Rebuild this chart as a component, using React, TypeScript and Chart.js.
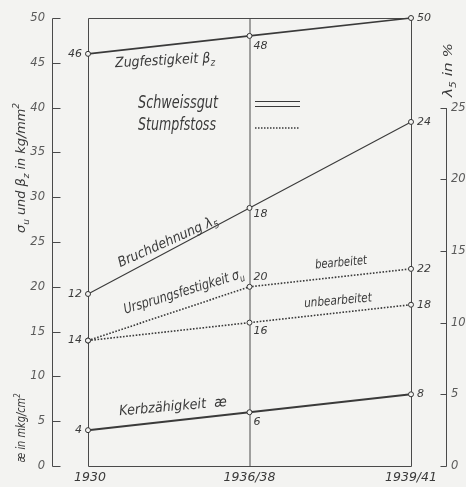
import React, { useEffect, useRef } from "react";
import { Chart, registerables } from "chart.js";

Chart.register(...registerables);

const categories = ["1930", "1936/38", "1939/41"];
const zugfestigkeit = [46, 48, 50];
const bruchdehnung = [12, 18, 24];
const ursprungBearbeitet = [14, 20, 22];
const ursprungUnbearbeitet = [14, 16, 18];
const kerbzaehigkeit = [4, 6, 8];
const leftTicks = [0, 5, 10, 15, 20, 25, 30, 35, 40, 45, 50];
const rightTicks = [0, 5, 10, 15, 20, 25];

const FONT = '"DejaVu Sans", "Liberation Sans", sans-serif';
const INK = "#3a3a3a";
const GREY = "#5a5a5a";
const BG = "#f3f3f1";

type Part = { t: string; sub?: boolean; sup?: boolean };

function drawRich(
  ctx: CanvasRenderingContext2D,
  parts: Part[],
  x: number,
  y: number,
  size: number,
  opts: { angle?: number; width?: number; align?: "center" | "left" | "right"; color?: string } = {}
) {
  const angle = opts.angle ?? 0;
  const align = opts.align ?? "center";
  ctx.save();
  ctx.translate(x, y);
  ctx.rotate((angle * Math.PI) / 180);
  const widths: number[] = [];
  let total = 0;
  for (const p of parts) {
    ctx.font = `italic ${p.sub || p.sup ? size * 0.7 : size}px ${FONT}`;
    const w = ctx.measureText(p.t).width;
    widths.push(w);
    total += w;
  }
  const sx = opts.width ? opts.width / total : 1;
  ctx.scale(sx, 1);
  let cx = align === "center" ? -total / 2 : align === "right" ? -total : 0;
  ctx.textBaseline = "middle";
  ctx.textAlign = "left";
  ctx.fillStyle = opts.color ?? INK;
  parts.forEach((p, i) => {
    ctx.font = `italic ${p.sub || p.sup ? size * 0.7 : size}px ${FONT}`;
    const dy = p.sub ? size * 0.32 : p.sup ? -size * 0.38 : 0;
    ctx.fillText(p.t, cx, dy);
    cx += widths[i];
  });
  ctx.restore();
}

// label placement per dataset for the middle point: vertical offset
const midOffsets = [10, 6, -10, 9, 10];
const showFirst = [true, true, true, false, true];

const decorPlugin = {
  id: "decor",
  beforeDatasetsDraw(chart: any) {
    const ctx: CanvasRenderingContext2D = chart.ctx;
    const x = chart.scales.x;
    const y = chart.scales.y;
    const y2 = chart.scales.y2;
    const x0 = x.getPixelForValue(0);
    const x1 = x.getPixelForValue(1);
    const x2 = x.getPixelForValue(2);
    const yTop = y.getPixelForValue(50);
    const yBot = y.getPixelForValue(0);
    ctx.save();
    ctx.strokeStyle = "#4a4a4a";
    ctx.lineWidth = 1;
    // frame
    ctx.beginPath();
    ctx.moveTo(x0 + 0.5, yBot + 0.5);
    ctx.lineTo(x0 + 0.5, yTop + 0.5);
    ctx.lineTo(x2 + 0.5, yTop + 0.5);
    ctx.lineTo(x2 + 0.5, yBot + 0.5);
    ctx.lineTo(x0 + 0.5, yBot + 0.5);
    ctx.moveTo(x1 + 0.5, yTop + 0.5);
    ctx.lineTo(x1 + 0.5, yBot + 0.5);
    ctx.stroke();
    // left axis
    const la = 52.5;
    ctx.beginPath();
    ctx.moveTo(la, yTop + 0.5);
    ctx.lineTo(la, yBot + 0.5);
    for (const t of leftTicks) {
      const py = Math.round(y.getPixelForValue(t)) + 0.5;
      ctx.moveTo(la, py);
      ctx.lineTo(la + 8, py);
    }
    // right axis
    const ra = 446.5;
    const rTop = y2.getPixelForValue(25);
    const rBot = y2.getPixelForValue(0);
    ctx.moveTo(ra, rTop + 0.5);
    ctx.lineTo(ra, rBot + 0.5);
    for (const t of rightTicks) {
      const py = Math.round(y2.getPixelForValue(t)) + 0.5;
      ctx.moveTo(ra, py);
      ctx.lineTo(ra - 6, py);
    }
    ctx.stroke();
    // legend samples
    ctx.strokeStyle = INK;
    ctx.lineWidth = 1.2;
    ctx.beginPath();
    ctx.moveTo(255, 101.5);
    ctx.lineTo(300, 101.5);
    ctx.moveTo(255, 106.5);
    ctx.lineTo(300, 106.5);
    ctx.stroke();
    ctx.setLineDash([1.5, 1.5]);
    ctx.lineWidth = 1.5;
    ctx.beginPath();
    ctx.moveTo(255, 128);
    ctx.lineTo(300, 128);
    ctx.stroke();
    ctx.restore();
  },
  afterDraw(chart: any) {
    const ctx: CanvasRenderingContext2D = chart.ctx;
    const x = chart.scales.x;
    const y = chart.scales.y;
    const y2 = chart.scales.y2;
    // axis tick labels
    for (const t of leftTicks) {
      drawRich(ctx, [{ t: String(t) }], 45, y.getPixelForValue(t), 11.5, { align: "right", color: GREY });
    }
    for (const t of rightTicks) {
      drawRich(ctx, [{ t: String(t) }], 451, y2.getPixelForValue(t), 11.5, { align: "left", color: GREY });
    }
    // categories
    categories.forEach((c, i) => {
      drawRich(ctx, [{ t: c }], x.getPixelForValue(i) + (i === 0 ? 2 : 0), 478, 12.5, { color: INK });
    });
    // data labels
    chart.data.datasets.forEach((ds: any, di: number) => {
      const meta = chart.getDatasetMeta(di);
      meta.data.forEach((pt: any, i: number) => {
        const v = String(ds.data[i]);
        if (i === 0) {
          if (!showFirst[di]) return;
          drawRich(ctx, [{ t: v }], pt.x - 6, pt.y, 11, { align: "right", color: INK });
        } else if (i === 1) {
          drawRich(ctx, [{ t: v }], pt.x + 4, pt.y + midOffsets[di], 11, { align: "left", color: INK });
        } else {
          drawRich(ctx, [{ t: v }], pt.x + 6, pt.y, 11, { align: "left", color: INK });
        }
      });
    });
    // axis titles
    drawRich(
      ctx,
      [{ t: "σ" }, { t: "u", sub: true }, { t: " und β" }, { t: "z", sub: true }, { t: " in kg/mm" }, { t: "2", sup: true }],
      22,
      168,
      13,
      { angle: -90, width: 130 }
    );
    drawRich(ctx, [{ t: "æ in mkg/cm" }, { t: "2", sup: true }], 22, 428, 12, { angle: -90, width: 69 });
    drawRich(ctx, [{ t: "λ" }, { t: "5", sub: true }, { t: " in %" }], 449, 70, 13, { angle: -90, width: 54 });
    // series labels
    drawRich(ctx, [{ t: "Zugfestigkeit β" }, { t: "z", sub: true }], 165, 61, 14, { angle: -3, width: 100 });
    drawRich(ctx, [{ t: "Schweissgut" }], 178, 104, 17, { width: 80 });
    drawRich(ctx, [{ t: "Stumpfstoss" }], 177, 126, 17, { width: 78 });
    drawRich(ctx, [{ t: "Bruchdehnung λ" }, { t: "5", sub: true }], 168, 242, 14, { angle: -24, width: 108 });
    drawRich(ctx, [{ t: "Ursprungsfestigkeit σ" }, { t: "u", sub: true }], 184, 292, 14, { angle: -17, width: 125 });
    drawRich(ctx, [{ t: "bearbeitet" }], 341, 263, 12.5, { angle: -5, width: 52 });
    drawRich(ctx, [{ t: "unbearbeitet" }], 338, 301, 12.5, { angle: -5, width: 68 });
    drawRich(ctx, [{ t: "Kerbzähigkeit  æ" }], 173, 407, 14, { angle: -5, width: 108 });
  },
};

export default function App() {
  const ref = useRef<HTMLCanvasElement | null>(null);
  useEffect(() => {
    if (!ref.current) return;
    const point = {
      pointRadius: 2.5,
      pointBackgroundColor: BG,
      pointBorderColor: "#333",
      pointBorderWidth: 1,
      clip: false as any,
      tension: 0,
    };
    const chart = new Chart(ref.current, {
      type: "line",
      data: {
        labels: categories,
        datasets: [
          { label: "Zugfestigkeit", data: zugfestigkeit, yAxisID: "y", borderColor: INK, borderWidth: 1.6, ...point },
          { label: "Bruchdehnung", data: bruchdehnung, yAxisID: "y2", borderColor: INK, borderWidth: 1.1, ...point },
          {
            label: "bearbeitet",
            data: ursprungBearbeitet,
            yAxisID: "y",
            borderColor: INK,
            borderWidth: 1.6,
            borderDash: [1.6, 1.6],
            ...point,
          },
          {
            label: "unbearbeitet",
            data: ursprungUnbearbeitet,
            yAxisID: "y",
            borderColor: INK,
            borderWidth: 1.6,
            borderDash: [1.6, 1.6],
            ...point,
          },
          { label: "Kerbzähigkeit", data: kerbzaehigkeit, yAxisID: "y", borderColor: INK, borderWidth: 2, ...point },
        ],
      },
      options: {
        responsive: false,
        animation: false,
        layout: { padding: { left: 88, right: 55, top: 18, bottom: 21 } },
        plugins: { legend: { display: false }, tooltip: { enabled: false }, title: { display: false } },
        scales: {
          x: { type: "category", offset: false, display: false },
          y: { min: 0, max: 50, display: false },
          y2: { min: 0, max: 31.25, display: false },
        },
      },
      plugins: [decorPlugin],
    });
    return () => chart.destroy();
  }, []);
  return (
    <div style={{ position: "fixed", left: 0, top: 0, width: 466, height: 487, background: BG }}>
      <canvas ref={ref} width={466} height={487} style={{ display: "block" }} />
    </div>
  );
}
